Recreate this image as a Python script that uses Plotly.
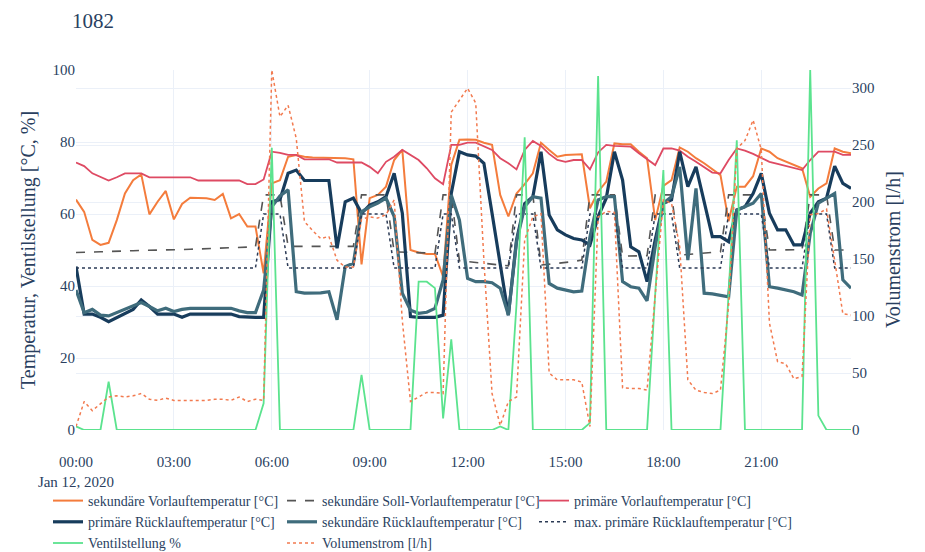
import pandas as pd
import plotly.graph_objects as go

times = pd.date_range("2020-01-12 00:00", periods=96, freq="15min")

sek_vorlauf = [64.0, 60.6, 52.8, 51.4, 52.0, 58.3, 65.7, 69.4, 71.0, 59.9, 63.4, 66.4, 58.5, 62.8, 64.5, 64.4,
               64.4, 63.9, 65.6, 58.8, 60.0, 56.5, 56.5, 43.5, 68.5, 69.4, 75.9, 76.4, 75.9, 75.7, 75.7, 75.5,
               75.5, 75.5, 75.2, 46.0, 64.4, 65.3, 67.6, 75.0, 77.8, 50.0, 49.3, 48.9, 48.9, 42.6, 73.6, 80.6,
               80.7, 80.6, 79.8, 79.2, 65.3, 59.3, 65.7, 68.3, 71.3, 79.8, 77.8, 75.9, 76.4, 76.4, 76.6, 61.6,
               66.2, 69.0, 79.6, 79.4, 79.4, 77.3, 75.5, 58.3, 67.8, 69.4, 78.5, 77.3, 75.5, 74.1, 72.4, 70.8,
               58.0, 67.6, 67.6, 70.5, 78.2, 77.3, 75.5, 74.6, 73.6, 72.7, 64.8, 67.1, 68.5, 78.2, 77.3, 76.9]

sek_soll = [49.3, 49.3, 49.4, 49.5, 49.6, 49.6, 49.7, 49.8, 49.9, 49.9, 50.0, 50.0, 50.1, 50.1, 50.2, 50.3,
            50.4, 50.5, 50.6, 50.7, 50.8, 50.9, 50.9, 65.3, 65.3, 65.3, 51.0, 51.0, 51.1, 51.1, 51.2, 51.2,
            51.1, 51.1, 51.0, 65.3, 65.3, 65.3, 65.3, 49.5, 49.4, 49.4, 49.3, 49.2, 49.1, 65.3, 65.3, 47.0,
            46.8, 46.5, 46.3, 46.0, 45.8, 45.6, 65.3, 65.3, 65.3, 45.8, 46.0, 46.3, 46.5, 46.8, 47.2, 65.3,
            65.3, 65.3, 65.3, 48.3, 48.3, 48.4, 48.4, 65.3, 65.3, 65.3, 48.6, 48.8, 49.0, 49.1, 49.3, 49.5,
            65.3, 65.3, 65.3, 65.3, 65.3, 50.0, 50.0, 50.0, 50.1, 50.1, 65.3, 65.3, 65.3, 50.0, 50.0, 50.0]

prim_vorlauf = [74.3, 73.3, 71.3, 70.2, 69.3, 70.2, 71.3, 71.3, 71.3, 70.2, 70.2, 70.2, 70.2, 70.2, 70.2, 69.3,
                69.3, 69.3, 69.3, 69.3, 69.3, 68.3, 68.3, 69.6, 77.3, 77.0, 76.4, 76.4, 75.2, 75.2, 75.2, 75.2,
                74.3, 74.3, 74.3, 74.3, 73.1, 71.3, 74.5, 75.9, 77.8, 76.4, 75.0, 72.7, 69.9, 68.3, 79.2, 79.2,
                79.8, 79.8, 78.9, 77.8, 75.5, 74.1, 72.4, 77.8, 80.3, 78.9, 76.7, 75.0, 74.5, 75.0, 75.0, 72.4,
                77.1, 79.2, 78.9, 78.8, 78.7, 76.9, 75.2, 73.6, 78.2, 78.2, 77.6, 75.9, 74.5, 73.1, 71.5, 71.3,
                75.0, 78.2, 77.6, 76.7, 75.7, 74.5, 73.9, 73.3, 72.7, 72.2, 75.0, 77.3, 77.3, 77.3, 76.4, 76.4]

prim_ruecklauf = [45.4, 32.2, 32.2, 31.3, 30.1, 31.3, 32.4, 33.5, 36.1, 34.3, 32.2, 32.2, 32.2, 31.3, 32.2, 32.2,
                  32.2, 32.2, 32.2, 32.2, 31.5, 31.3, 31.3, 31.3, 63.4, 64.0, 71.3, 72.2, 69.3, 69.3, 69.3, 69.3,
                  50.5, 63.4, 64.4, 60.2, 62.5, 63.4, 64.8, 71.3, 60.2, 31.5, 31.3, 31.3, 31.3, 31.9, 65.7, 77.3,
                  76.4, 76.1, 74.1, 60.2, 46.3, 31.9, 52.8, 62.9, 64.8, 77.3, 59.7, 55.6, 54.2, 53.2, 52.8, 51.4,
                  59.3, 64.4, 77.3, 69.4, 50.9, 49.5, 41.2, 52.8, 63.0, 63.9, 77.3, 67.6, 73.1, 63.4, 53.7, 53.7,
                  52.3, 61.1, 62.0, 65.7, 71.3, 60.2, 55.6, 55.6, 51.4, 51.4, 60.2, 63.4, 64.4, 73.3, 68.5, 67.1]

sek_ruecklauf = [38.9, 32.6, 33.5, 31.9, 31.7, 32.6, 33.5, 34.4, 35.4, 34.3, 33.1, 33.8, 32.9, 33.5, 33.8, 33.8,
                 33.8, 33.8, 33.8, 33.8, 33.1, 32.6, 32.6, 38.9, 62.0, 65.0, 66.7, 38.4, 38.0, 38.0, 38.1, 38.4,
                 30.6, 45.4, 46.3, 60.6, 62.0, 63.0, 64.4, 59.3, 38.0, 33.3, 32.4, 32.7, 33.8, 41.7, 65.3, 58.3,
                 42.1, 41.2, 41.2, 40.9, 39.4, 31.9, 52.3, 62.0, 64.8, 64.4, 40.7, 39.4, 38.9, 38.4, 38.6, 53.7,
                 63.9, 64.8, 64.8, 41.2, 39.8, 39.4, 35.9, 50.9, 63.0, 64.8, 73.1, 47.2, 67.1, 38.0, 37.8, 37.5,
                 37.0, 61.1, 62.0, 63.0, 65.7, 39.8, 39.4, 38.9, 38.4, 37.5, 54.6, 63.0, 64.4, 65.7, 41.7, 39.4]

max_prim_ruecklauf = [45, 45, 45, 45, 45, 45, 45, 45, 45, 45, 45, 45, 45, 45, 45, 45,
                      45, 45, 45, 45, 45, 45, 45, 60, 60, 60, 45, 45, 45, 45, 45, 45,
                      45, 45, 45, 60, 60, 60, 60, 45, 45, 45, 45, 45, 45, 60, 60, 45,
                      45, 45, 45, 45, 45, 45, 60, 60, 60, 45, 45, 45, 45, 45, 45, 60,
                      60, 60, 60, 45, 45, 45, 45, 60, 60, 60, 45, 45, 45, 45, 45, 45,
                      60, 60, 60, 60, 60, 45, 45, 45, 45, 45, 60, 60, 60, 45, 45, 45]

ventil = [1.0, 0, 0, 0, 13.4, 0, 0, 0, 0, 0, 0, 0, 0, 0, 0, 0,
          0, 0, 0, 0, 0, 0, 0, 7.4, 78.4, 0, 0, 0, 0, 0, 0, 0,
          0, 0, 0, 15.3, 0, 0, 0, 0, 0, 0, 41.2, 41.2, 39.4, 3.2, 25.2, 0,
          0, 0, 0, 0, 1.0, 0, 35.0, 81.3, 0, 0, 0, 0, 0, 0, 0, 2.0,
          98.3, 0, 0, 0, 0, 0, 0, 37.7, 72.2, 0, 0, 0, 0, 0, 0, 0,
          38.0, 80.5, 0, 0, 0, 0, 0, 0, 0, 0, 100.0, 4.0, 0, 0, 0, 0]

volumenstrom = [3, 25, 17, 23, 29, 30, 29, 30, 32, 27, 26, 28, 26, 26, 26, 26,
                26, 27, 27, 26, 29, 25, 27, 26, 316, 275, 285, 256, 183, 175, 168, 170,
                149, 143, 143, 185, 187, 186, 189, 202, 96, 25, 29, 33, 33, 32, 279, 289,
                300, 287, 149, 32, 4, 25, 29, 167, 187, 190, 50, 44, 44, 44, 42, 3,
                187, 192, 191, 37, 36.5, 36.5, 35, 120, 202, 199, 161, 44, 35, 33, 32, 35,
                110, 247, 254, 272, 246, 94, 60, 58, 45, 47, 189, 190, 194, 149, 102, 101]

FONT = "Liberation Serif, Times New Roman, serif"

series = [
    ("sekundäre Vorlauftemperatur [°C]", sek_vorlauf, dict(color="#F47C3C", width=2), "y", "legend"),
    ("sekundäre Soll-Vorlauftemperatur [°C]", sek_soll, dict(color="#555555", width=1.6, dash="dash"), "y", "legend2"),
    ("primäre Vorlauftemperatur [°C]", prim_vorlauf, dict(color="#DE4A63", width=1.8), "y", "legend3"),
    ("primäre Rücklauftemperatur [°C]", prim_ruecklauf, dict(color="#173C5C", width=3.2), "y", "legend"),
    ("sekundäre Rücklauftemperatur [°C]", sek_ruecklauf, dict(color="#3F6C7C", width=3.2), "y", "legend2"),
    ("max. primäre Rücklauftemperatur [°C]", max_prim_ruecklauf, dict(color="#2B3A55", width=1.5, dash="dot"), "y", "legend3"),
    ("Ventilstellung %", ventil, dict(color="#5BE38E", width=1.8), "y", "legend"),
    ("Volumenstrom [l/h]", volumenstrom, dict(color="#F27A4F", width=1.5, dash="dot"), "y2", "legend2"),
]

fig = go.Figure()
for name, vals, line, yax, leg in series:
    fig.add_trace(go.Scatter(x=times, y=vals, name=name, mode="lines", line=line,
                             yaxis=yax, legend=leg))

W, H = 917, 544
grid = "#EBF0F8"
leg_top = 1 - 477 / H
legend_common = dict(xref="container", xanchor="left", y=leg_top, yref="container", yanchor="top",
                     font=dict(size=14), bgcolor="rgba(0,0,0,0)")

fig.update_layout(
    template="plotly_white",
    width=W, height=H,
    font=dict(family=FONT, size=15, color="#2a3f5f"),
    title=dict(text="1082", font=dict(size=21), x=64 / W, xanchor="left", xref="container",
               y=1 - 13 / H, yanchor="middle", yref="container"),
    margin=dict(l=68, r=74, t=62, b=122, autoexpand=False),
    xaxis=dict(dtick=3 * 3600 * 1000, tick0="2020-01-12", showgrid=True, gridcolor=grid,
               ticklabelstandoff=21, automargin=False),
    yaxis=dict(range=[0, 100], dtick=20, gridcolor=grid, zeroline=False, automargin=False),
    yaxis2=dict(overlaying="y", side="right", range=[0, 316], dtick=50, gridcolor=grid,
                showgrid=True, zeroline=False, automargin=False),
    legend=dict(x=40 / W, **legend_common),
    legend2=dict(x=274 / W, **legend_common),
    legend3=dict(x=526 / W, **legend_common),
    showlegend=True,
    annotations=[
        dict(text="Temperatur, Ventilstellung [°C, %]", xref="paper", yref="paper",
             x=(20 - 68) / 775, y=0.5, xanchor="center", yanchor="middle", textangle=-90,
             showarrow=False, font=dict(size=20)),
        dict(text="Volumenstrom [l/h]", xref="paper", yref="paper",
             x=(885 - 68) / 775, y=0.5, xanchor="center", yanchor="middle", textangle=-90,
             showarrow=False, font=dict(size=20)),
    ],
)

fig.write_html("out.html")
